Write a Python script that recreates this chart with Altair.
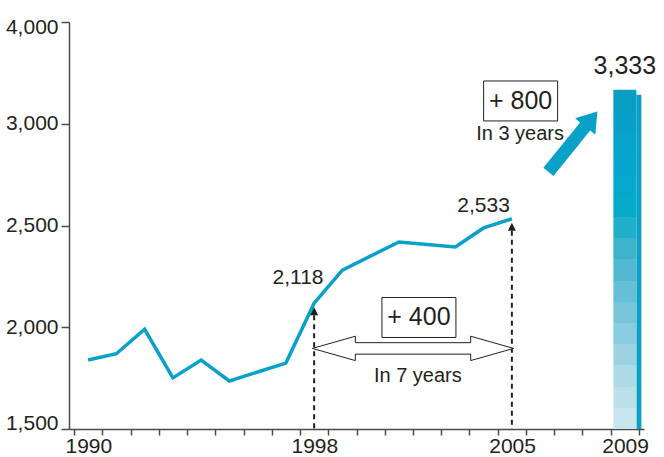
import altair as alt
import pandas as pd

# ---------------- data ----------------
years = [1990, 1991, 1992, 1993, 1994, 1995, 1996, 1997, 1998, 1999, 2001, 2003, 2004, 2005]
values = [1839, 1870, 1990, 1751, 1839, 1736, 1780, 1824, 2118, 2281, 2419, 2394, 2488, 2533]

bar_year = [2009]
bar_value = [3333]
bar_text = ["3,333"]

marker_years = [1998, 2005]
marker_values = [2118, 2533]

value_label_x = [1997.43, 2004.0]
value_label_y = [2244, 2596]
value_label_text = ["2,118", "2,533"]

box_x = [2001.71, 2005.31]
box_y = [2048, 3224]
box_text = ["+ 400", "+ 800"]

note_x = [2001.67, 2005.29]
note_y = [1760, 2950]
note_text = ["In 7 years", "In 3 years"]

span_x = [2001.5]      # middle of 1998-2005 span
span_y = [1896]

growth_x = [2007.16]
growth_y = [2912]

x_tick_years = [1989.5 + i for i in range(21)]
x_label_years = [1990, 1998, 2005, 2009]
y_ticks = [1500, 2000, 2500, 3000, 4000]

# ---------------- style ----------------
FONT = "Liberation Sans"
INK = "#231f20"
AXIS = "#4a4a4a"
TEAL = "#0aa1c8"
W, H = 575, 407
steps = ["#0b9ec4", "#0a9fc7", "#08a3cb", "#06a5cd", "#05a7cc", "#04aac8", "#20afc8", "#3db4cc",
         "#52b9d0", "#66bfd5", "#78c5d9", "#8acce0", "#9bd3e2", "#acdae6", "#bcdfea", "#c9e6ef"]
stops = []
n = len(steps)
for i, c in enumerate(steps):
    stops.append(alt.GradientStop(offset=i / n, color=c))
    stops.append(alt.GradientStop(offset=(i + 1) / n, color=c))
bar_fill = alt.Gradient(gradient="linear", stops=stops, x1=0, x2=0, y1=0, y2=1)

XS = alt.Scale(domain=[1989.5, 2009.5], nice=False, zero=False)
YS = alt.Scale(domain=y_ticks, range=[H, H * 0.75, H * 0.5, H * 0.25, 0], nice=False, zero=False)

lab_expr = ("indexof([" + ",".join(str(y - 0.5) for y in x_label_years) +
            "], datum.value) >= 0 ? toString(datum.value + 0.5) : ''")
x_axis = alt.Axis(values=x_tick_years, labelExpr=lab_expr, labelOffset=14.375, tickSize=6,
                  labelPadding=0, labelFontSize=21, labelFont=FONT, labelColor=INK,
                  labelOverlap=False, labelFlush=False, domainColor=AXIS, tickColor=AXIS,
                  domainWidth=1.5, tickWidth=1.5, grid=False, title=None)
y_axis = alt.Axis(values=y_ticks, format=",.0f", tickSize=8, labelPadding=3, labelFontSize=21,
                  labelFont=FONT, labelColor=INK, domainColor=AXIS, tickColor=AXIS,
                  domainWidth=1.5, tickWidth=1.5, grid=False, title=None,
                  labelOffset={"condition": [{"test": "datum.value == 4000", "value": 5},
                                             {"test": "datum.value == 1500", "value": -6}],
                               "value": 0})

line_df = pd.DataFrame({"year": years, "value": values})
bar_df = pd.DataFrame({"year": bar_year, "value": bar_value, "text": bar_text, "base": [y_ticks[0]]})
mark_df = pd.DataFrame({"year": marker_years, "value": marker_values, "base": [y_ticks[0]] * 2})
vlab_df = pd.DataFrame({"year": value_label_x, "value": value_label_y, "text": value_label_text})
box_df = pd.DataFrame({"year": box_x, "value": box_y, "text": box_text})
note_df = pd.DataFrame({"year": note_x, "value": note_y, "text": note_text})
span_df = pd.DataFrame({"year": span_x, "value": span_y})
growth_df = pd.DataFrame({"year": growth_x, "value": growth_y})

X = alt.X("year:Q", scale=XS, axis=x_axis)
Y = alt.Y("value:Q", scale=YS, axis=y_axis)

line = alt.Chart(line_df).mark_line(color=TEAL, strokeWidth=3.5, strokeJoin="miter").encode(x=X, y=Y)

bar_shadow = alt.Chart(bar_df).mark_bar(width=5, xOffset=14, yOffset=5, color=TEAL).encode(
    x=X, y=Y, y2="base:Q")
bar_main = alt.Chart(bar_df).mark_bar(width=23, color=bar_fill).encode(x=X, y=Y, y2="base:Q")
bar_label = alt.Chart(bar_df).mark_text(font=FONT, fontSize=25, color=INK, dy=-24,
                                        baseline="middle").encode(x=X, y=Y, text="text:N")

rules = alt.Chart(mark_df).mark_rule(strokeDash=[5, 4], strokeWidth=2, color=INK, yOffset=12).encode(
    x=X, y=Y, y2="base:Q")
tri = alt.Chart(mark_df).mark_point(shape="M0,-1L1,1L-1,1Z", size=64, filled=True, color=INK,
                                    opacity=1, yOffset=8).encode(x=X, y=Y)

vlabels = alt.Chart(vlab_df).mark_text(font=FONT, fontSize=21, color=INK, baseline="middle").encode(
    x=X, y=Y, text="text:N")

span_path = ("M-1,0L-0.573,-0.121L-0.573,-0.057L0.573,-0.057L0.573,-0.121L1,0"
             "L0.573,0.121L0.573,0.057L-0.573,0.057L-0.573,0.121Z")
span = alt.Chart(span_df).mark_point(shape=span_path, size=40502, filled=True, fill="white",
                                     stroke=INK, strokeWidth=1, opacity=1).encode(x=X, y=Y)

box_path = "M-1,-0.54L1,-0.54L1,0.54L-1,0.54Z"
boxes = alt.Chart(box_df).mark_point(shape=box_path, size=74 * 74, filled=True, fill="white",
                                     stroke=INK, strokeWidth=1, opacity=1).encode(x=X, y=Y)
box_text_l = alt.Chart(box_df).mark_text(font=FONT, fontSize=25, color=INK, baseline="middle").encode(
    x=X, y=Y, text="text:N")

notes = alt.Chart(note_df).mark_text(font=FONT, fontSize=20, color=INK, baseline="middle").encode(
    x=X, y=Y, text="text:N")

arrow_path = ("M-0.1625,0.9725L0.1625,0.9725L0.1625,-0.4875L0.325,-0.4875L0,-0.9725"
              "L-0.325,-0.4875L-0.1625,-0.4875Z")
growth = alt.Chart(growth_df).mark_point(shape=arrow_path, size=6400, angle=39, filled=True,
                                         color=TEAL, opacity=1, strokeWidth=0).encode(x=X, y=Y)

chart = alt.layer(
    line, bar_shadow, bar_main, bar_label, rules, tri, vlabels, span, boxes, box_text_l, notes, growth
).properties(
    width=W, height=H,
    padding={"left": 69, "top": 22, "right": 20, "bottom": 28},
    autosize=alt.AutoSizeParams(type="none"),
    background="white",
).configure_view(stroke=None)

chart.save("out.html", embed_options={"renderer": "svg", "actions": False})
